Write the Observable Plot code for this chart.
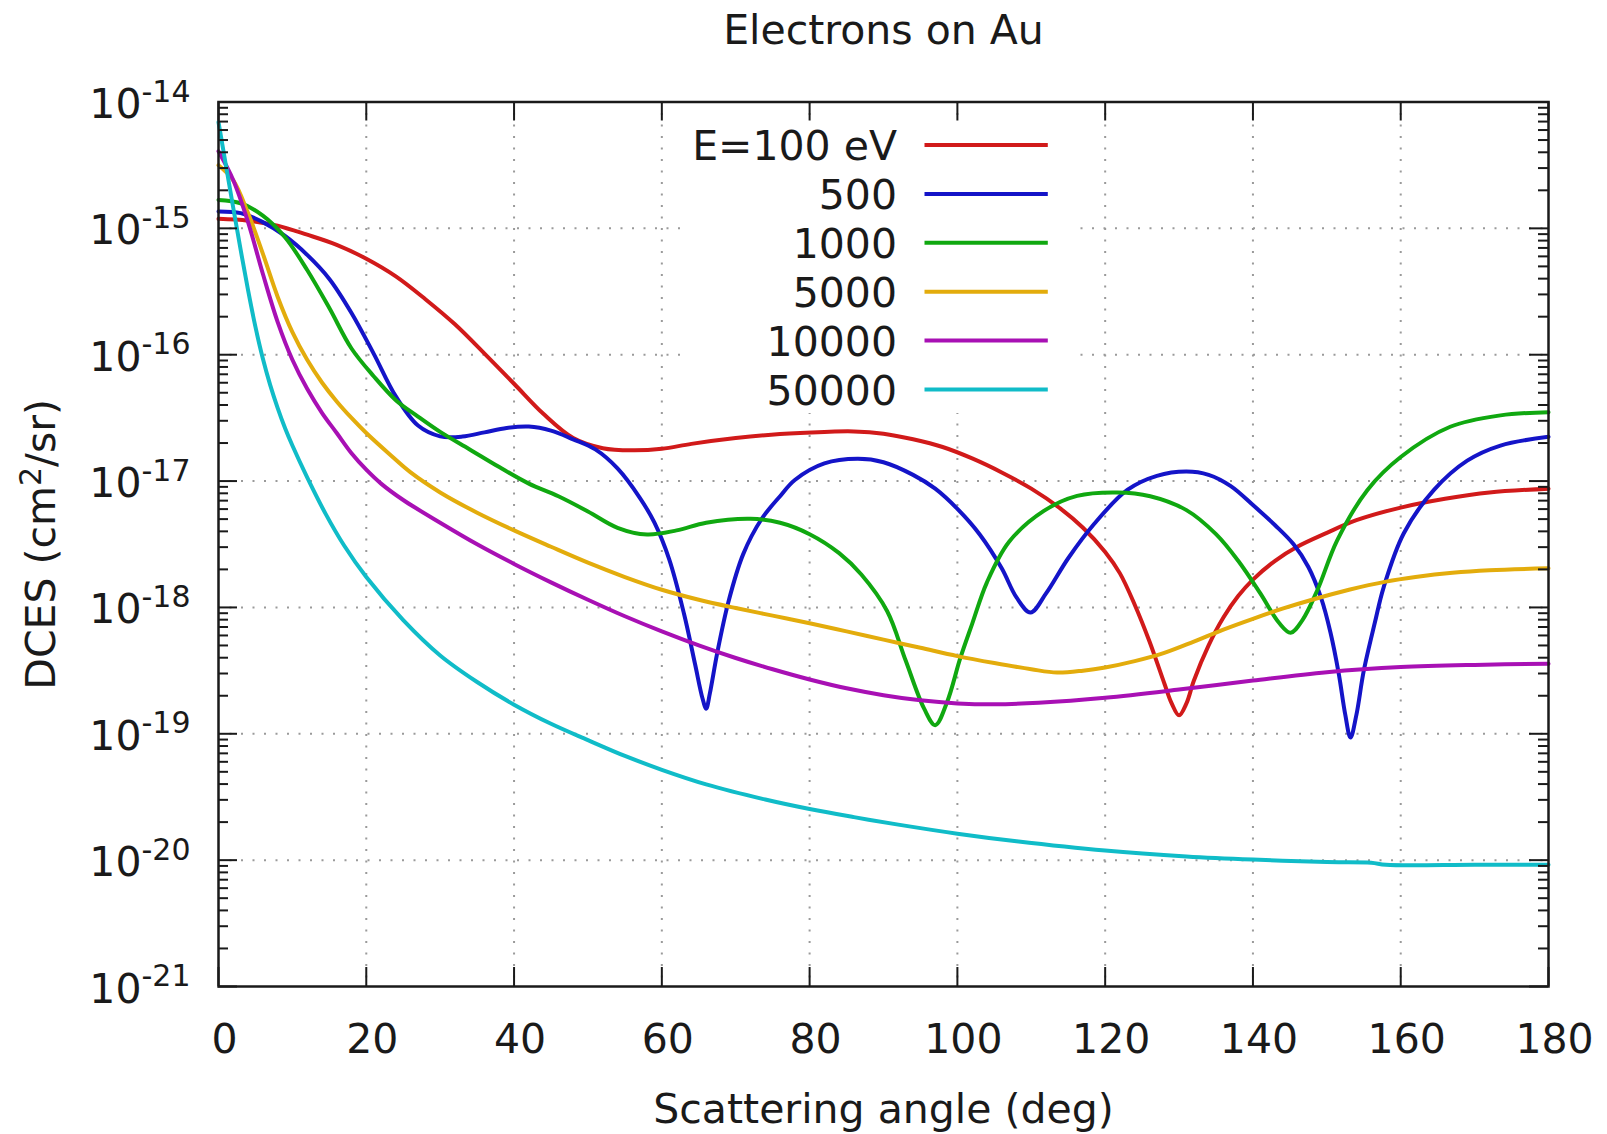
<!DOCTYPE html>
<html>
<head>
<meta charset="utf-8">
<script src="https://cdn.jsdelivr.net/npm/d3@7"></script>
<script src="https://cdn.jsdelivr.net/npm/@observablehq/plot@0.6"></script>
<style>
  html, body { margin: 0; padding: 0; background: #fff; }
  svg { display: block; }
</style>
</head>
<body>
<div id="chart"></div>
<script>
// ---------- text ----------
const title = "Electrons on Au";
const xLabel = "Scattering angle (deg)";
const yLabelParts = ["DCES (cm", "2", "/sr)"];

// ---------- ticks ----------
const xTicks = [0, 20, 40, 60, 80, 100, 120, 140, 160, 180];
const xGrid = [20, 40, 60, 80, 100, 120, 140, 160];
const yDecades = [1e-21, 1e-20, 1e-19, 1e-18, 1e-17, 1e-16, 1e-15, 1e-14];
const yExponents = ["-21", "-20", "-19", "-18", "-17", "-16", "-15", "-14"];
const yGrid = [1e-20, 1e-19, 1e-18, 1e-17, 1e-16, 1e-15];
const minorMultipliers = [2, 3, 4, 5, 6, 7, 8, 9];

// ---------- series ----------
const seriesLabels = ["E=100 eV", "500", "1000", "5000", "10000", "50000"];
const seriesColors = ["#d11a1a", "#1414c8", "#10a810", "#e3ac0c", "#a810b4", "#10bcc8"];

const angle100 = [0,4,8,12,16,20,24,28,32,36,40,44,48,52,56,60,64,70,76,82,86,90,94,98,102,106,110,114,117,120,122,124,126,128,129,130,131,132,134,136,138,140,143,146,150,154,160,166,172,180];
const dces100 = [1.19e-15,1.15e-15,1.05e-15,8.91e-16,7.41e-16,5.75e-16,4.17e-16,2.75e-16,1.74e-16,1.02e-16,5.89e-17,3.39e-17,2.19e-17,1.82e-17,1.75e-17,1.80e-17,1.97e-17,2.19e-17,2.36e-17,2.45e-17,2.47e-17,2.37e-17,2.14e-17,1.86e-17,1.51e-17,1.17e-17,8.71e-18,6.03e-18,4.27e-18,2.75e-18,1.86e-18,1.05e-18,5.37e-19,2.51e-19,1.74e-19,1.40e-19,1.74e-19,2.63e-19,5.01e-19,8.32e-19,1.23e-18,1.66e-18,2.34e-18,3.02e-18,3.89e-18,4.90e-18,6.17e-18,7.24e-18,8.13e-18,8.71e-18];

const angle500 = [0,3,6,9,12,15,18,21,24,27,30,33,36,39,42,45,48,51,54,57,59,61,63,64.5,65.5,66,66.5,67.5,69,71,73.5,76,78,82,86.5,90,94,97,100,103,106,108,109.9,112,115,118.5,123,127,131,134,137,140,143,145.5,147.5,149.2,150.5,151.6,152.5,153.2,154,155,156.5,157.7,160.4,164.5,169,173.5,180];
const dces500 = [1.36e-15,1.32e-15,1.12e-15,8.71e-16,6.17e-16,3.98e-16,2.14e-16,1.02e-16,4.68e-17,2.75e-17,2.26e-17,2.25e-17,2.43e-17,2.63e-17,2.70e-17,2.51e-17,2.14e-17,1.78e-17,1.26e-17,7.41e-18,4.68e-18,2.40e-18,8.91e-19,3.55e-19,1.91e-19,1.58e-19,2.09e-19,4.37e-19,1.10e-18,2.63e-18,5.01e-18,7.59e-18,1.02e-17,1.38e-17,1.50e-17,1.41e-17,1.12e-17,8.71e-18,6.03e-18,3.80e-18,2.04e-18,1.20e-18,9.12e-19,1.29e-18,2.45e-18,4.57e-18,8.51e-18,1.10e-17,1.19e-17,1.12e-17,9.12e-18,6.46e-18,4.47e-18,3.16e-18,2.09e-18,1.20e-18,6.31e-19,3.02e-19,1.41e-19,9.33e-20,1.41e-19,3.16e-19,7.59e-19,1.45e-18,3.85e-18,8.51e-18,1.45e-17,1.91e-17,2.24e-17];

const angle1000 = [0,3,6,9,12,15,18,21,24,27,30,34,38,42,46,50,54,58,62,66,72,76,80,84,87,90.5,93,95.5,97,98.6,100.4,102,104,107,111.7,116.2,121.6,126.1,131,135,138,141,143.5,145.1,146.7,148.7,151.4,155.5,160,166.7,173.5,180];
const dces1000 = [1.68e-15,1.58e-15,1.26e-15,8.51e-16,4.68e-16,2.34e-16,1.12e-16,6.76e-17,4.37e-17,3.24e-17,2.45e-17,1.78e-17,1.29e-17,9.55e-18,7.59e-18,5.75e-18,4.27e-18,3.78e-18,4.07e-18,4.68e-18,5.03e-18,4.68e-18,3.80e-18,2.69e-18,1.82e-18,9.33e-19,3.80e-19,1.58e-19,1.17e-19,1.78e-19,3.98e-19,7.41e-19,1.58e-18,3.31e-18,5.81e-18,7.64e-18,8.13e-18,7.59e-18,5.89e-18,3.80e-18,2.34e-18,1.29e-18,7.59e-19,6.31e-19,7.94e-19,1.36e-18,3.39e-18,8.51e-18,1.55e-17,2.69e-17,3.31e-17,3.51e-17];

const angle5000 = [0,2,4,6,8,10,12,14,16,18,20,23,26,30,35,40,45,50,55,60,65,70,75,80,85,90,95,100,105,110,113.5,117,120,124,128,132,136,140,144,148,153,158,162,167,172,180];
const dces5000 = [3.16e-15,2.40e-15,1.32e-15,6.31e-16,2.88e-16,1.51e-16,9.12e-17,6.03e-17,4.27e-17,3.16e-17,2.40e-17,1.66e-17,1.17e-17,8.13e-18,5.62e-18,4.07e-18,3.02e-18,2.26e-18,1.74e-18,1.38e-18,1.15e-18,9.89e-19,8.61e-19,7.50e-19,6.46e-19,5.56e-19,4.79e-19,4.12e-19,3.63e-19,3.24e-19,3.05e-19,3.16e-19,3.35e-19,3.76e-19,4.37e-19,5.37e-19,6.68e-19,8.13e-19,9.77e-19,1.15e-18,1.38e-18,1.60e-18,1.74e-18,1.88e-18,1.97e-18,2.04e-18];

const angle10000 = [0,2,4,6,8,10,12,14,16,18,20,22,25,30,35,40,45,50,55,60,65,70,75,80,85,90,95,100,105,111,120,130,140,150,160,170,180];
const dces10000 = [4.07e-15,2.40e-15,1.12e-15,4.37e-16,1.82e-16,9.12e-17,5.37e-17,3.47e-17,2.40e-17,1.66e-17,1.23e-17,9.55e-18,7.08e-18,4.68e-18,3.16e-18,2.21e-18,1.58e-18,1.15e-18,8.51e-19,6.46e-19,5.01e-19,3.98e-19,3.24e-19,2.69e-19,2.29e-19,2.02e-19,1.84e-19,1.74e-19,1.71e-19,1.76e-19,1.93e-19,2.24e-19,2.64e-19,3.07e-19,3.37e-19,3.51e-19,3.58e-19];

const angle50000 = [0,1,2,3,4,5,6,7,8,9,10,12,14.5,17,20,25,30,35,40,45,50,55,60,66,74,80,86,92,100,108,120,131,140,150,156,158,170,180];
const dces50000 = [6.92e-15,3.16e-15,1.45e-15,6.76e-16,3.24e-16,1.66e-16,9.33e-17,5.75e-17,3.80e-17,2.63e-17,1.91e-17,1.07e-17,5.50e-18,3.09e-18,1.74e-18,7.94e-19,4.17e-19,2.57e-19,1.70e-19,1.20e-19,8.91e-20,6.68e-20,5.19e-20,3.98e-20,3.02e-20,2.54e-20,2.19e-20,1.91e-20,1.62e-20,1.41e-20,1.19e-20,1.07e-20,1.01e-20,9.66e-21,9.55e-21,9.18e-21,9.18e-21,9.18e-21];

// ---------- layout ----------
const W = 1607, H = 1134;
const mTop = 101.5, mRight = 59, mBottom = 148, mLeft = 218;
const frameW = W - mLeft - mRight;
const frameH = H - mTop - mBottom;
const ink = "#1a1a1a";
const font = "DejaVu Sans";
const fs = 41, supFs = 30;

const seriesAngles = [angle100, angle500, angle1000, angle5000, angle10000, angle50000];
const seriesValues = [dces100, dces500, dces1000, dces5000, dces10000, dces50000];

const lineMarks = seriesAngles.map((ang, k) =>
  Plot.line(d3.zip(ang, seriesValues[k]), {
    x: d => d[0], y: d => d[1],
    stroke: seriesColors[k], strokeWidth: 4,
    curve: "catmull-rom", strokeLinejoin: "round", strokeLinecap: "round"
  })
);

const yMinor = yDecades.slice(0, -1).flatMap(d => minorMultipliers.map(k => k * d));
const gridStyle = {stroke: "#9a9a9a", strokeWidth: 2, strokeDasharray: "2,9.5"};
const tickStyle = {stroke: ink, strokeWidth: 2};

const svg = Plot.plot({
  width: W, height: H,
  marginTop: mTop, marginRight: mRight, marginBottom: mBottom, marginLeft: mLeft,
  x: {domain: [0, 180], axis: null},
  y: {type: "log", domain: [1e-21, 1e-14], axis: null},
  style: {fontFamily: font, background: "white", color: ink, overflow: "visible"},
  marks: [
    Plot.ruleX(xGrid, {x: d => d, ...gridStyle}),
    Plot.ruleY(yGrid, {y: d => d, ...gridStyle}),
    ...lineMarks,
    Plot.tickX(xTicks, {x: d => d, insetTop: frameH - 19, ...tickStyle}),
    Plot.tickX(xTicks, {x: d => d, insetBottom: frameH - 19, ...tickStyle}),
    Plot.tickY(yDecades, {y: d => d, insetRight: frameW - 19, ...tickStyle}),
    Plot.tickY(yDecades, {y: d => d, insetLeft: frameW - 19, ...tickStyle}),
    Plot.tickY(yMinor, {y: d => d, insetRight: frameW - 10, ...tickStyle}),
    Plot.tickY(yMinor, {y: d => d, insetLeft: frameW - 10, ...tickStyle}),
    Plot.frame({stroke: ink, strokeWidth: 2.5}),
    Plot.text(xTicks, {x: d => d, frameAnchor: "bottom", text: d => String(d),
      textAnchor: "middle", dx: 6, dy: 66, lineAnchor: "bottom", fontSize: fs, fill: ink}),
    Plot.text(yDecades, {y: d => d, frameAnchor: "left", text: (d, i) => "10^" + yExponents[i],
      textAnchor: "end", dx: -28, dy: 16, lineAnchor: "bottom", fontSize: fs, fill: ink}),
    Plot.text([title], {frameAnchor: "top", text: d => d, textAnchor: "middle",
      dy: -58.2, lineAnchor: "bottom", fontSize: fs, fill: ink}),
    Plot.text([xLabel], {frameAnchor: "bottom", text: d => d, textAnchor: "middle",
      dy: 136, lineAnchor: "bottom", fontSize: fs, fill: ink}),
    Plot.text([yLabelParts.join("^")], {frameAnchor: "left", text: d => d, rotate: -90,
      textAnchor: "middle", dx: -164, lineAnchor: "bottom", fontSize: fs, fill: ink})
  ]
});

// superscripts (10^-14, cm^2)
d3.select(svg).selectAll("text").each(function () {
  const parts = this.textContent.split("^");
  if (parts.length < 2) return;
  const isTick = parts[0] === "10";
  const shift = isTick ? 16.5 : 14;
  const t = d3.select(this);
  t.text(null);
  parts.forEach((p, i) => {
    const sp = t.append("tspan").text(p);
    if (i % 2 === 1) sp.attr("font-size", supFs).attr("dy", -shift);
    else if (i > 0) sp.attr("font-size", fs).attr("dy", shift);
  });
});

// legend (opaque key, top centre)
const legend = d3.select(svg).append("g").attr("font-family", font).attr("font-size", fs).attr("fill", ink);
legend.append("rect").attr("x", 686).attr("y", 121).attr("width", 387).attr("height", 292).attr("fill", "white");
seriesLabels.forEach((lab, i) => {
  const yy = 145 + 48.9 * i;
  legend.append("text").attr("x", 897).attr("y", yy + 15).attr("text-anchor", "end").text(lab);
  legend.append("line").attr("x1", 924.5).attr("x2", 1047.8).attr("y1", yy).attr("y2", yy)
    .attr("stroke", seriesColors[i]).attr("stroke-width", 4);
});

document.getElementById("chart").appendChild(svg);
</script>
</body>
</html>
